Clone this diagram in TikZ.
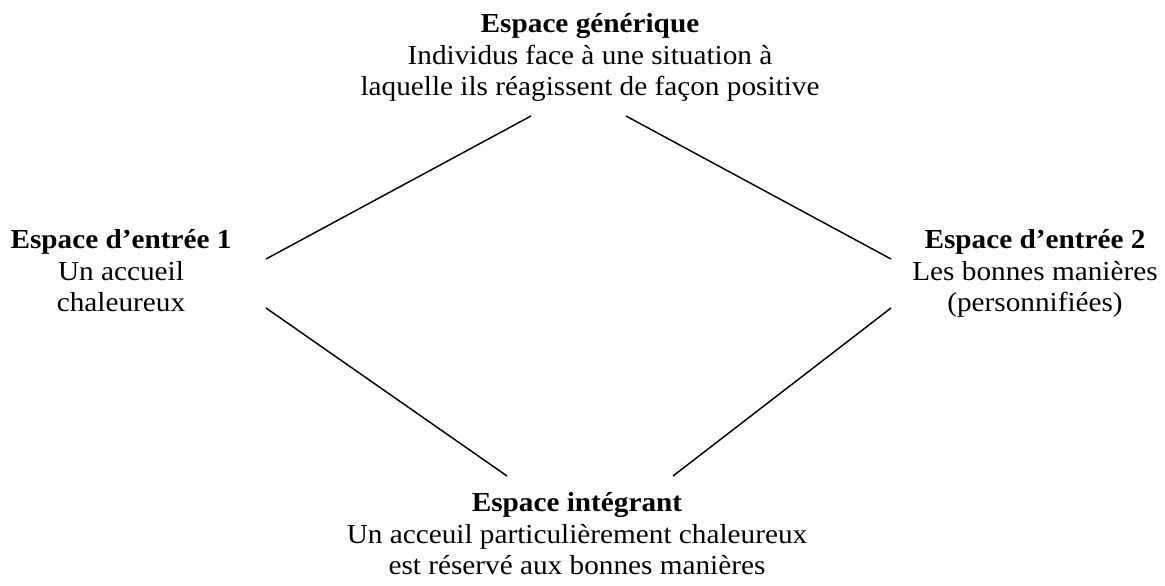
\documentclass[tikz,border=0pt]{standalone}
\usepackage{fontspec}
\setmainfont[FakeStretch=1.065]{Liberation Serif}
\usetikzlibrary{calc}

\tikzset{
  espace/.style={align=center, inner sep=0pt, anchor=north, font=\fontsize{20.6}{23.8}\selectfont},
  lien/.style={line width=1.1pt}
}

\begin{document}
\begin{tikzpicture}[x=0.75pt, y=-0.75pt]
			\useasboundingbox (0,0) rectangle (1165,586);
			% les quatre espaces
			\node[espace] (gen) at (590,13) {\textbf{Espace générique}\\Individus face à une situation à\\laquelle ils réagissent de façon positive};
			\node[espace] (in1) at (121,229) {\textbf{Espace d’entrée 1}\\Un accueil\\chaleureux};
			\node[espace] (in2) at (1035,229) {\textbf{Espace d’entrée 2}\\Les bonnes manières\\(personnifiées)};
			\node[espace] (blend) at (577,492) {\textbf{Espace intégrant}\\Un acceuil particulièrement chaleureux\\est réservé aux bonnes manières};
			% liens
			\draw[lien] ($(gen.north)+(-59,103)$) -- ($(in1.north)+(145,30)$);
			\draw[lien] ($(gen.north)+(36,103)$) -- ($(in2.north)+(-144,30)$);
			\draw[lien] ($(in1.north)+(145,79)$) -- ($(blend.north)+(-70,-16)$);
			\draw[lien] ($(in2.north)+(-144,79)$) -- ($(blend.north)+(96,-16)$);
		\end{tikzpicture}
\end{document}
